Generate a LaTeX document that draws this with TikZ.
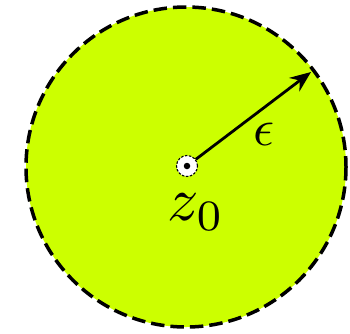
\documentclass[tikz,border=0pt]{standalone}
\usetikzlibrary{arrows.meta}
\definecolor{lime}{HTML}{CCFF00}
\begin{document}
\begin{tikzpicture}[x=1pt,y=-1pt,
  disk/.style={fill=lime,draw=black,line width=3.5pt,dash pattern=on 13.5pt off 6pt},
  ctr/.style={circle,fill=white,draw=black,line width=1.1pt,dash pattern=on 2.5pt off 1.5pt,minimum size=21pt,inner sep=0pt},
  dotc/.style={circle,fill=black,minimum size=6.5pt,inner sep=0pt},
  radius arrow/.style={line width=2.8pt,-{Stealth[length=21pt,width=17pt,inset=7pt]}},
  lbl/.style={inner sep=0pt}]
\useasboundingbox (0,0) rectangle (350,333);
\draw[disk] (186,167) circle[radius=160];
\coordinate (rim) at (311,72);
\node[ctr] (c) at (187,166) {};
\node[dotc] (d) at (187,166) {};
\draw[radius arrow] (c) -- (rim);
\node[lbl,scale=5.2] (eps) at (264,134) {$\epsilon$};
\node[lbl,scale=6.2] (z) at (196,212) {$z_0$};
\end{tikzpicture}
\end{document}
